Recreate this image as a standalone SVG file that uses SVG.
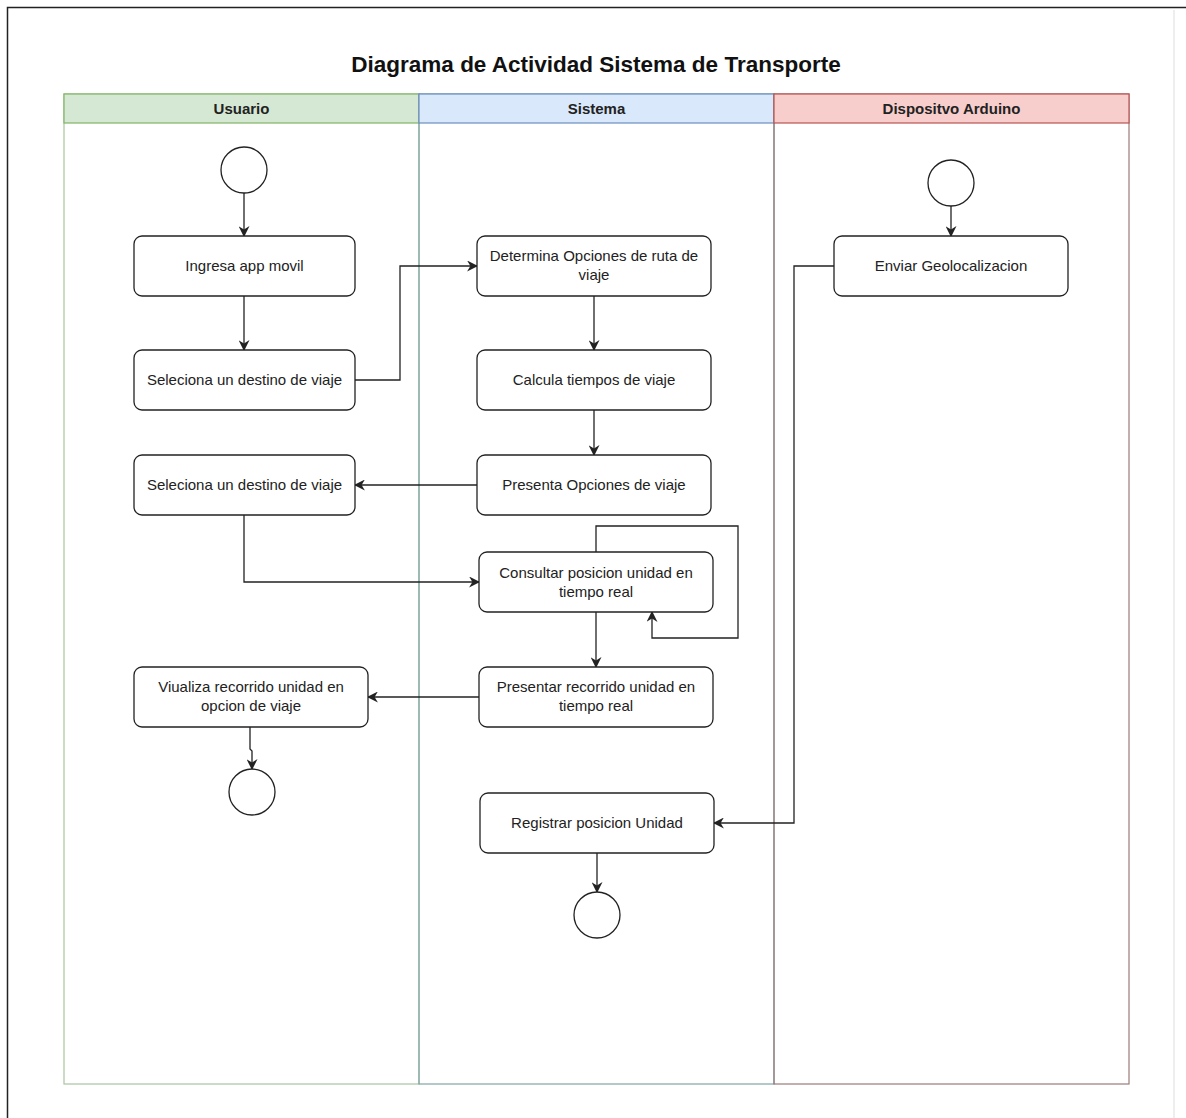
<svg xmlns="http://www.w3.org/2000/svg" width="1186" height="1118" viewBox="0 0 1186 1118">
  <style>
    .title { font-family: "Liberation Sans", Arial, sans-serif; font-size: 22.5px; font-weight: bold; fill: #111; }
    .head { font-family: "Liberation Sans", Arial, sans-serif; font-size: 15px; font-weight: bold; fill: #222; }
    .lbl { font-family: "Liberation Sans", Arial, sans-serif; font-size: 15px; fill: #222; }
    .act { fill: #fff; stroke: #222; stroke-width: 1.3; }
    .term { fill: #fff; stroke: #222; stroke-width: 1.3; }
    .edge { fill: none; stroke: #222; stroke-width: 1.3; }
  </style>
  <defs>
    <marker id="arrow" viewBox="0 0 10 10" refX="9" refY="5" markerWidth="11" markerHeight="11" markerUnits="userSpaceOnUse" orient="auto">
      <path d="M0,0 L10,5 L0,10 L3,5 Z" fill="#222"/>
    </marker>
  </defs>

  <rect x="0" y="0" width="1186" height="1118" fill="#fff"/>
  <!-- page frame -->
  <path d="M7.5,1118 V7.5 H1186" fill="none" stroke="#222" stroke-width="1.5"/>
  <line x1="1174" y1="10" x2="1174" y2="1118" stroke="#ddd" stroke-width="1"/>

  <text class="title" x="596" y="72" text-anchor="middle">Diagrama de Actividad Sistema de Transporte</text>

  <!-- swimlanes -->
  <g id="lane-usuario">
    <rect x="64" y="94" width="355" height="990" fill="#fff" stroke="#a9c4a0" stroke-width="1.2"/>
    <rect x="64" y="94" width="355" height="29" fill="#d5e8d4" stroke="#82b366" stroke-width="1.2"/>
    <text class="head" x="241.5" y="114" text-anchor="middle">Usuario</text>
  </g>
  <g id="lane-sistema">
    <rect x="419" y="94" width="355" height="990" fill="none" stroke="#7fa3a8" stroke-width="1.2"/>
    <rect x="419" y="94" width="355" height="29" fill="#dae8fc" stroke="#6c8ebf" stroke-width="1.2"/>
    <text class="head" x="596.5" y="114" text-anchor="middle">Sistema</text>
  </g>
  <g id="lane-arduino">
    <rect x="774" y="94" width="355" height="990" fill="none" stroke="#9a7a78" stroke-width="1.2"/>
    <rect x="774" y="94" width="355" height="29" fill="#f8cecc" stroke="#b85450" stroke-width="1.2"/>
    <text class="head" x="951.5" y="114" text-anchor="middle">Dispositvo Arduino</text>
  </g>

  <!-- connectors -->
  <g id="connectors">
    <path class="edge" d="M244,193 V236" marker-end="url(#arrow)"/>
    <path class="edge" d="M244,296 V350" marker-end="url(#arrow)"/>
    <path class="edge" d="M355,380 H400 V266 H477" marker-end="url(#arrow)"/>
    <path class="edge" d="M594,296 V350" marker-end="url(#arrow)"/>
    <path class="edge" d="M594,410 V455" marker-end="url(#arrow)"/>
    <path class="edge" d="M477,485 H355" marker-end="url(#arrow)"/>
    <path class="edge" d="M244,515 V582 H479" marker-end="url(#arrow)"/>
    <path class="edge" d="M596,552 V526 H738 V638 H652 V612" marker-end="url(#arrow)"/>
    <path class="edge" d="M596,612 V667" marker-end="url(#arrow)"/>
    <path class="edge" d="M479,697 H368" marker-end="url(#arrow)"/>
    <path class="edge" d="M250,727 V749 L252,751 V769" marker-end="url(#arrow)"/>
    <path class="edge" d="M597,853 V892" marker-end="url(#arrow)"/>
    <path class="edge" d="M834,266 H794 V823 H714" marker-end="url(#arrow)"/>
    <path class="edge" d="M951,206 V236" marker-end="url(#arrow)"/>
  </g>

  <!-- Usuario -->
  <g id="u-start"><circle class="term" cx="244" cy="170" r="23"/></g>
  <g id="u-ingresa">
    <rect class="act" x="134" y="236" width="221" height="60" rx="8"/>
    <text class="lbl" x="244.5" y="271" text-anchor="middle">Ingresa app movil</text>
  </g>
  <g id="u-selecciona1">
    <rect class="act" x="134" y="350" width="221" height="60" rx="8"/>
    <text class="lbl" x="244.5" y="385" text-anchor="middle">Seleciona un destino de viaje</text>
  </g>
  <g id="u-selecciona2">
    <rect class="act" x="134" y="455" width="221" height="60" rx="8"/>
    <text class="lbl" x="244.5" y="490" text-anchor="middle">Seleciona un destino de viaje</text>
  </g>
  <g id="u-visualiza">
    <rect class="act" x="134" y="667" width="234" height="60" rx="8"/>
    <text class="lbl" x="251" y="692" text-anchor="middle">Viualiza recorrido unidad en</text>
    <text class="lbl" x="251" y="711" text-anchor="middle">opcion de viaje</text>
  </g>
  <g id="u-end"><circle class="term" cx="252" cy="792" r="23"/></g>

  <!-- Sistema -->
  <g id="s-determina">
    <rect class="act" x="477" y="236" width="234" height="60" rx="8"/>
    <text class="lbl" x="594" y="261" text-anchor="middle">Determina Opciones de ruta de</text>
    <text class="lbl" x="594" y="280" text-anchor="middle">viaje</text>
  </g>
  <g id="s-calcula">
    <rect class="act" x="477" y="350" width="234" height="60" rx="8"/>
    <text class="lbl" x="594" y="385" text-anchor="middle">Calcula tiempos de viaje</text>
  </g>
  <g id="s-presenta">
    <rect class="act" x="477" y="455" width="234" height="60" rx="8"/>
    <text class="lbl" x="594" y="490" text-anchor="middle">Presenta Opciones de viaje</text>
  </g>
  <g id="s-consultar">
    <rect class="act" x="479" y="552" width="234" height="60" rx="8"/>
    <text class="lbl" x="596" y="578" text-anchor="middle">Consultar posicion unidad en</text>
    <text class="lbl" x="596" y="597" text-anchor="middle">tiempo real</text>
  </g>
  <g id="s-presentar">
    <rect class="act" x="479" y="667" width="234" height="60" rx="8"/>
    <text class="lbl" x="596" y="692" text-anchor="middle">Presentar recorrido unidad en</text>
    <text class="lbl" x="596" y="711" text-anchor="middle">tiempo real</text>
  </g>
  <g id="s-registrar">
    <rect class="act" x="480" y="793" width="234" height="60" rx="8"/>
    <text class="lbl" x="597" y="828" text-anchor="middle">Registrar posicion Unidad</text>
  </g>
  <g id="s-end"><circle class="term" cx="597" cy="915" r="23"/></g>

  <!-- Dispositivo Arduino -->
  <g id="a-start"><circle class="term" cx="951" cy="183" r="23"/></g>
  <g id="a-enviar">
    <rect class="act" x="834" y="236" width="234" height="60" rx="8"/>
    <text class="lbl" x="951" y="271" text-anchor="middle">Enviar Geolocalizacion</text>
  </g>
</svg>
